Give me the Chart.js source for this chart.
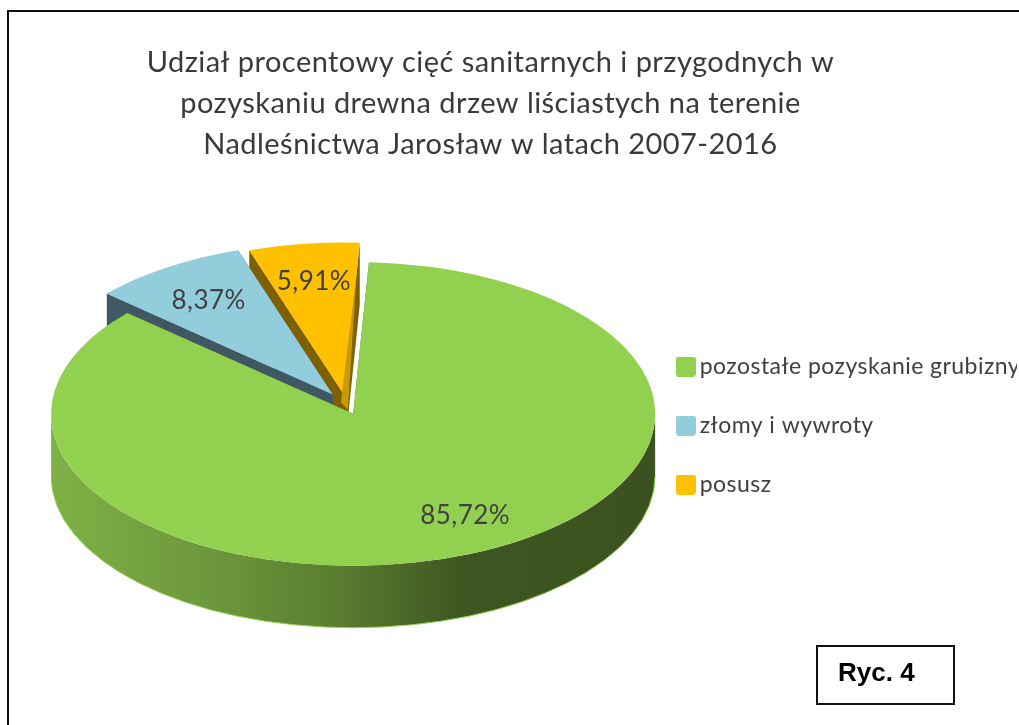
<!DOCTYPE html>
<html lang="pl"><head><meta charset="utf-8">
<style>html,body{margin:0;padding:0;background:#fff;overflow:hidden}canvas{display:block}</style>
<script src="https://cdn.jsdelivr.net/npm/chart.js@4"></script></head>
<body><div style="width:1019px;height:725px"><canvas id="c" width="1019" height="725"></canvas></div>
<script>
const categories = ['pozostałe pozyskanie grubizny', 'złomy i wywroty', 'posusz'];
const shares = [85.72, 8.37, 5.91];
const titleLines = ['Udział procentowy cięć sanitarnych i przygodnych w', 'pozyskaniu drewna drzew liściastych na terenie', 'Nadleśnictwa Jarosław w latach 2007-2016'];
const figureLabel = 'Ryc. 4';
const topColors = ['#92D050', '#92CDDC', '#FFC000'];
const cutColors = ['#5a7f30', '#3F5864', '#7F6000'];
const explode = [0, 39, 39];
const nudge = [[0, 0], [1, -3], [-4, 0]];
const labelShift = [[112, 102], [-124, -94], [-30, -113]];
const squash = 0.503, depth = 62, shiftY = -17;
const FONT = 'Lato, Carlito, sans-serif';

function swatch(color) {
  const s = document.createElement('canvas'); s.width = 20; s.height = 20;
  const g = s.getContext('2d'); g.fillStyle = color;
  g.beginPath(); g.roundRect(0, 0, 20, 20, 3); g.fill();
  return s;
}
function wallGradient(ctx) {
  const g = ctx.createLinearGradient(52, 0, 655, 0);
  [[0, '#7FB146'], [0.3, '#6A933A'], [0.48, '#587C2F'], [0.68, '#3E5621'], [1, '#3B5220']].forEach(s => g.addColorStop(s[0], s[1]));
  return g;
}
const pie3d = {
  id: 'pie3d',
  afterLayout(chart) {
    chart.titleBlock.left = 0; chart.titleBlock.right = 981;
    chart.legend.top += 84; chart.legend.bottom += 84;
    chart.legend.left -= 2; chart.legend.right -= 2;
  },
  beforeDraw(chart) {
    chart.ctx.letterSpacing = '0.45px';
  },
  beforeDatasetsDraw(chart) {
    const ctx = chart.ctx, arcs = chart.getDatasetMeta(0).data;
    const apex = (a, i) => {
      const mid = (a.startAngle + a.endAngle) / 2;
      return [a.x + explode[i] * Math.cos(mid) + nudge[i][0], a.y + shiftY + explode[i] * Math.sin(mid) * squash + nudge[i][1]];
    };
    [2, 1, 0].forEach(i => {
      const a = arcs[i], R = a.outerRadius, [cx, cy] = apex(a, i);
      const rim = t => [cx + R * Math.cos(t), cy + R * Math.sin(t) * squash];
      ctx.fillStyle = cutColors[i];
      [a.startAngle, a.endAngle].forEach(t => {
        const p = rim(t);
        ctx.beginPath(); ctx.moveTo(cx, cy); ctx.lineTo(p[0], p[1]); ctx.lineTo(p[0], p[1] + depth); ctx.lineTo(cx, cy + depth); ctx.closePath(); ctx.fill();
      });
      const from = Math.max(a.startAngle, 0), to = Math.min(a.endAngle, Math.PI);
      if (to > from) {
        ctx.fillStyle = wallGradient(ctx);
        ctx.beginPath(); ctx.ellipse(cx, cy, R, R * squash, 0, from, to);
        ctx.ellipse(cx, cy + depth, R, R * squash, 0, to, from, true); ctx.closePath(); ctx.fill();
        ctx.strokeStyle = topColors[i]; ctx.lineWidth = 1;
        ctx.beginPath(); ctx.ellipse(cx, cy + depth, R, R * squash, 0, from, to); ctx.stroke();
      }
      ctx.save(); ctx.translate(cx, cy); ctx.scale(1, squash); ctx.translate(-a.x, -a.y); a.draw(ctx); ctx.restore();
      if (i === 2) {
        const p = rim(a.endAngle), u = 0.2;
        ctx.fillStyle = '#C99A06';
        ctx.beginPath(); ctx.moveTo(p[0] + (cx - p[0]) * u, p[1] + (cy - p[1]) * u);
        ctx.lineTo(cx + 4, cy + 15); ctx.lineTo(cx - 3, cy + 8); ctx.closePath(); ctx.fill();
      }
    });
    ctx.font = '26px ' + FONT; ctx.fillStyle = '#404040'; ctx.textAlign = 'center'; ctx.textBaseline = 'middle';
    arcs.forEach((a, i) => {
      const [cx, cy] = apex(a, i);
      ctx.fillText(shares[i].toFixed(2).replace('.', ',') + '%', cx + labelShift[i][0], cy + labelShift[i][1]);
    });
    return false;
  },
  afterDraw(chart) {
    const ctx = chart.ctx;
    ctx.save();
    ctx.letterSpacing = '0px';
    ctx.strokeStyle = '#111'; ctx.lineWidth = 2;
    ctx.beginPath(); ctx.moveTo(1019, 11); ctx.lineTo(8, 11); ctx.lineTo(8, 725); ctx.stroke();
    ctx.strokeRect(817, 646, 137, 58);
    ctx.font = 'bold 26px "Liberation Sans", Arial, sans-serif'; ctx.fillStyle = '#000';
    ctx.textAlign = 'left'; ctx.textBaseline = 'middle';
    ctx.fillText(figureLabel, 838, 674);
    ctx.restore();
  }
};
new Chart(document.getElementById('c'), {
  type: 'pie',
  data: { labels: categories, datasets: [{ data: shares, backgroundColor: topColors, borderWidth: 0 }] },
  options: {
    responsive: false, animation: false, rotation: 3, radius: 302,
    layout: { padding: { left: 57, bottom: 42 } },
    events: [],
    plugins: {
      tooltip: { enabled: false },
      title: { display: true, text: titleLines, color: '#3a3a3a', font: { family: FONT, size: 29, weight: 'normal', lineHeight: 1.41 }, padding: { top: 42, bottom: 14 } },
      legend: {
        position: 'right', align: 'center', maxWidth: 378,
        labels: {
          usePointStyle: true, pointStyleWidth: 5, padding: 36, color: '#404040',
          font: { family: FONT, size: 23 },
          generateLabels: () => categories.map((t, i) => ({ text: t, pointStyle: swatch(topColors[i]), fontColor: '#404040', fillStyle: topColors[i], strokeStyle: topColors[i], lineWidth: 0, index: i, datasetIndex: 0 }))
        }
      }
    }
  },
  plugins: [pie3d]
});
</script></body></html>
